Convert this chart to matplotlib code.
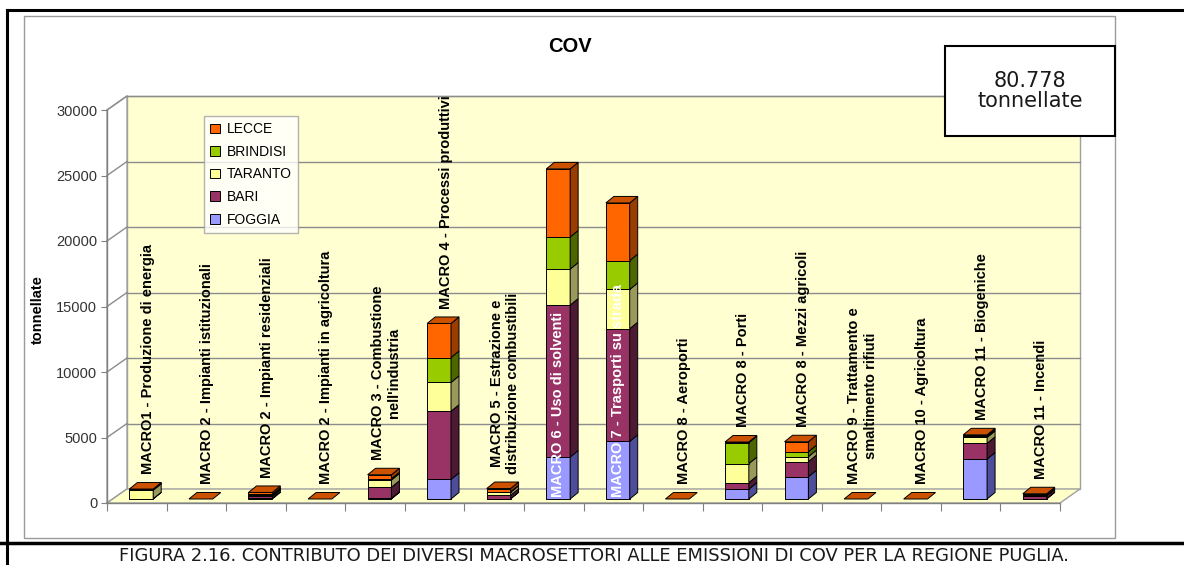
import matplotlib.pyplot as plt
from matplotlib.patches import Polygon, Rectangle, Patch
from matplotlib.lines import Line2D
import numpy as np

W, H = 1184, 565

categories = [
    "MACRO1 - Produzione di energia",
    "MACRO 2 - Impianti istituzionali",
    "MACRO 2 - Impianti residenziali",
    "MACRO 2 - Impianti in agricoltura",
    "MACRO 3 - Combustione\nnell'industria",
    "MACRO 4 - Processi produttivi",
    "MACRO 5 - Estrazione e\ndistribuzione combustibili",
    "MACRO 6 - Uso di solventi",
    "MACRO 7 - Trasporti su strada",
    "MACRO 8 - Aeroporti",
    "MACRO 8 - Porti",
    "MACRO 8 - Mezzi agricoli",
    "MACRO 9 - Trattamento e\nsmaltimento rifiuti",
    "MACRO 10 - Agricoltura",
    "MACRO 11 - Biogeniche",
    "MACRO 11 - Incendi",
]

provinces = ["FOGGIA", "BARI", "TARANTO", "BRINDISI", "LECCE"]

# tonnellate per macrosettore e provincia
foggia   = [0,   0, 60,  0, 50,  1500, 30,  3200,  4400, 0, 750,  1700, 0, 0, 3050, 20]
bari     = [20,  0, 150, 0, 850, 5200, 250, 11600, 8600, 0, 500,  1150, 0, 0, 1200, 220]
taranto  = [650, 0, 80,  0, 550, 2200, 230, 2750,  3000, 0, 1450, 380,  0, 0, 450,  20]
brindisi = [40,  0, 60,  0, 100, 1900, 40,  2450,  2200, 0, 1600, 380,  0, 0, 100,  20]
lecce    = [50,  0, 150, 0, 300, 2600, 250, 5200,  4400, 0, 50,   760,  0, 0, 100,  120]

total_label = "80.778\ntonnellate"
yticks = [0, 5000, 10000, 15000, 20000, 25000, 30000]

front = ["#9999FF", "#993366", "#FFFF99", "#99CC00", "#FF6600"]
side = ["#4D4D99", "#4D1A33", "#99995C", "#4D6600", "#993D00"]
top_face = "#CC5200"

series = [foggia, bari, taranto, brindisi, lecce]
n = len(categories)

fig = plt.figure(figsize=(W / 100, H / 100), dpi=100)
ax = fig.add_axes([107 / W, (H - 503) / H, 953 / W, 393 / H])
ax.set_xlim(0, n)
ax.set_ylim(0, 30000)
ax.set_facecolor("none")

px_x = n / 953.0          # data units per pixel, horizontal
px_y = 30000 / 393.0      # data units per pixel, vertical

# walls and floor of the 3d box
dx, dy = 20 * px_x, 14 * px_y
grid_c = "#8c8c8c"
ax.add_patch(Polygon([(dx, dy), (n + dx, dy), (n + dx, 30000 + dy), (dx, 30000 + dy)],
                     closed=True, fc="#FFFFD2", ec="#a0a0a0", lw=1, clip_on=False, zorder=0))
ax.add_patch(Polygon([(0, 0), (dx, dy), (dx, 30000 + dy), (0, 30000)],
                     closed=True, fc="white", ec="#a0a0a0", lw=1, clip_on=False, zorder=0))
ax.add_patch(Polygon([(0, 0), (n, 0), (n + dx, dy), (dx, dy)],
                     closed=True, fc="#FFFFC8", ec="#a0a0a0", lw=1, clip_on=False, zorder=0.5))
for v in yticks[1:]:
    ax.plot([dx, n + dx], [v + dy, v + dy], color=grid_c, lw=1, clip_on=False, zorder=0.2)
for v in yticks:
    ax.plot([0, dx], [v, v + dy], color=grid_c, lw=1, clip_on=False, zorder=0.2)

# stacked 3d bars
bw = 0.4
bdx, bdy = 8 * px_x, 6.5 * px_y
base0 = 4 * px_y
stacks = np.vstack(series)
for i in range(n):
    left = i + 0.5 + 4.5 * px_x - bw / 2
    right = left + bw
    b = base0
    for k in range(len(series)):
        h = stacks[k, i]
        if h > 0:
            ax.bar(left, h, bw, bottom=b, align="edge", color=front[k],
                   edgecolor="black", lw=0.7, clip_on=False, zorder=2)
            ax.add_patch(Polygon([(right, b), (right + bdx, b + bdy),
                                  (right + bdx, b + h + bdy), (right, b + h)],
                                 closed=True, fc=side[k], ec="black", lw=0.7,
                                 clip_on=False, zorder=2))
        b += h
    ax.add_patch(Polygon([(left, b), (right, b), (right + bdx, b + bdy), (left + bdx, b + bdy)],
                         closed=True, fc=top_face, ec="black", lw=0.7, clip_on=False, zorder=2))

    # category label above the bar, or inside when the bar is too tall
    if b > 20000:
        ax.annotate(categories[i], (left + bw / 2, base0), xytext=(0, 1.5),
                    textcoords="offset points", rotation=90, ha="center", va="bottom",
                    fontsize=10.5, fontweight="bold", color="white",
                    family="Liberation Sans", zorder=5)
    else:
        ax.annotate(categories[i], (i + 0.5 + 11 * px_x, b + bdy), xytext=(0, 6),
                    textcoords="offset points", rotation=90, ha="center", va="bottom",
                    fontsize=10.5, fontweight="bold", color="black",
                    family="Liberation Sans", multialignment="center", zorder=5)

for s in ["top", "right"]:
    ax.spines[s].set_visible(False)
for s in ["left", "bottom"]:
    ax.spines[s].set_color("#808080")
    ax.spines[s].set_linewidth(1)
ax.set_yticks(yticks)
ax.set_yticklabels([str(v) for v in yticks], fontsize=10.5, color="#333333",
                   family="Liberation Sans")
ax.set_xticks(np.arange(n + 1))
ax.set_xticklabels([])
ax.tick_params(axis="y", length=4, pad=3, color="#808080")
ax.tick_params(axis="x", length=6, color="#808080")

handles = [Patch(facecolor=front[k], edgecolor="black", lw=0.7) for k in range(4, -1, -1)]
leg = fig.legend(handles, provinces[::-1], loc="upper left",
                 bbox_to_anchor=(204 / W, 1 - 116 / H), frameon=True, fancybox=False,
                 prop={"family": "Liberation Sans", "size": 10}, handlelength=0.7,
                 handleheight=0.7, handletextpad=0.5, labelspacing=0.62,
                 borderpad=0.45, borderaxespad=0)
leg.get_frame().set_edgecolor("#a0a0a0")
leg.get_frame().set_linewidth(1)

fig.text(38 / W, 1 - 310 / H, "tonnellate", rotation=90, ha="center", va="center",
         fontsize=10.5, fontweight="bold", family="Liberation Sans")
fig.text(570 / W, 1 - 46 / H, "COV", ha="center", va="center",
         fontsize=14.5, fontweight="bold", family="Liberation Sans")

# total box
fig.add_artist(Rectangle((945 / W, 1 - 136 / H), 170 / W, 90 / H, transform=fig.transFigure,
                         fc="white", ec="black", lw=1.5, zorder=10))
fig.text(1030 / W, 1 - 91 / H, total_label, ha="center", va="center", fontsize=15,
         linespacing=1.05, family="DejaVu Sans", color="#1a1a1a", zorder=11)

# chart area and page frame
fig.add_artist(Rectangle((24 / W, 1 - 538 / H), 1091 / W, 522 / H, transform=fig.transFigure,
                         fill=False, ec="#9a9a9a", lw=1, zorder=1))
fig.add_artist(Line2D([7 / W, 1], [1 - 10 / H] * 2, transform=fig.transFigure, color="black", lw=2.2))
fig.add_artist(Line2D([7 / W] * 2, [1 - 10 / H, 0], transform=fig.transFigure, color="black", lw=2.2))
fig.add_artist(Line2D([0, 1], [1 - 543 / H] * 2, transform=fig.transFigure, color="black", lw=2.5))

fig.text(594 / W, 1 - 556 / H,
         "FIGURA 2.16. CONTRIBUTO DEI DIVERSI MACROSETTORI ALLE EMISSIONI DI COV PER LA REGIONE PUGLIA.",
         ha="center", va="center", fontsize=12.9, family="DejaVu Sans", color="#1a1a1a")

fig.savefig("out.png", dpi=100)
